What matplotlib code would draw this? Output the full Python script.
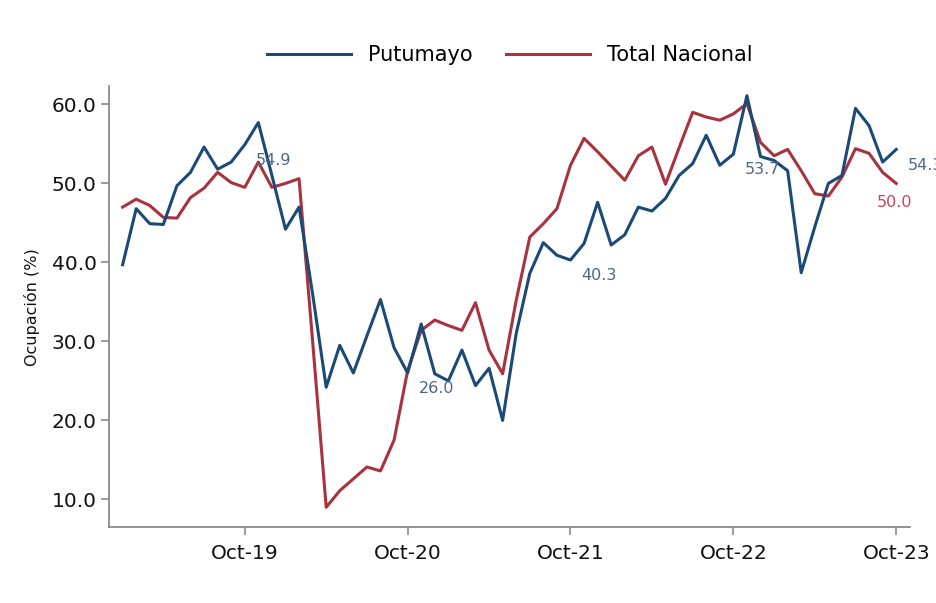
import matplotlib
matplotlib.use("Agg")
import matplotlib.pyplot as plt
import numpy as np
import pandas as pd

# monthly occupancy rate (%), Jan-2019 .. Oct-2023
months = pd.date_range("2019-01-01", "2023-10-01", freq="MS")

putumayo = [39.7, 46.8, 44.9, 44.8, 49.7, 51.4, 54.6, 51.8, 52.7, 54.9,
            57.7, 51.0, 44.2, 47.0, 36.0, 24.2, 29.5, 26.0, 30.7, 35.3,
            29.2, 26.0, 32.2, 25.9, 25.0, 28.9, 24.4, 26.6, 20.0, 31.0,
            38.6, 42.5, 40.9, 40.3, 42.4, 47.6, 42.2, 43.5, 47.0, 46.5,
            48.1, 51.0, 52.5, 56.1, 52.3, 53.7, 61.1, 53.4, 52.9, 51.6,
            38.7, 44.5, 50.0, 51.0, 59.5, 57.3, 52.7, 54.3]

nacional = [47.0, 48.0, 47.2, 45.7, 45.6, 48.2, 49.4, 51.4, 50.1, 49.5,
            52.7, 49.5, 50.0, 50.6, 30.0, 9.0, 11.1, 12.6, 14.1, 13.6,
            17.5, 26.3, 31.4, 32.7, 32.0, 31.4, 34.9, 28.9, 25.9, 35.2,
            43.2, 44.9, 46.8, 52.3, 55.7, 54.0, 52.2, 50.4, 53.5, 54.6,
            49.9, 54.5, 59.0, 58.4, 58.0, 58.8, 60.1, 55.2, 53.5, 54.3,
            51.6, 48.7, 48.4, 50.8, 54.4, 53.8, 51.4, 50.0]

# points that carry a value label
putumayo_labels = ["2019-10", "2020-10", "2021-10", "2022-10", "2023-10"]
nacional_labels = ["2023-10"]

y_ticks = [10, 20, 30, 40, 50, 60]

BLUE = "#1a4a75"
RED = "#a8323e"
BLUE_TXT = "#4f6684"
RED_TXT = "#c8455e"
GRAY = "#808080"

plt.rcParams['font.family'] = ['DejaVu Sans']

x = np.arange(len(months))
fig = plt.figure(figsize=(9.36, 6.03), dpi=100)
ax = fig.add_axes([0.1165, 0.126, 0.8555, 0.731])

ax.plot(x, putumayo, color=BLUE, lw=2.2, label="Putumayo", zorder=3)
ax.plot(x, nacional, color=RED, lw=2.2, label="Total Nacional", zorder=2)

keys = list(months.strftime("%Y-%m"))
for k in putumayo_labels:
    i = keys.index(k)
    ax.annotate(f"{putumayo[i]:.1f}", (x[i], putumayo[i]), xytext=(8, -6),
                textcoords="offset points", ha="left", va="top",
                fontsize=11.5, color=BLUE_TXT, annotation_clip=False)
for k in nacional_labels:
    i = keys.index(k)
    ax.annotate(f"{nacional[i]:.1f}", (x[i], nacional[i]), xytext=(-14, -8),
                textcoords="offset points", ha="left", va="top",
                fontsize=11.5, color=RED_TXT, annotation_clip=False)

oct_idx = [i for i, m in enumerate(months) if m.month == 10]
ax.set_xticks(x[oct_idx])
ax.set_xticklabels(months[oct_idx].strftime("Oct-%y"))
ax.set_yticks(y_ticks)
ax.set_yticklabels([f"{v:.1f}" for v in y_ticks])
ax.set_xlim(-1, 58)
ax.set_ylim(6.5, 62.3)

for s in ["top", "right"]:
    ax.spines[s].set_visible(False)
for s in ["left", "bottom"]:
    ax.spines[s].set_color(GRAY)
    ax.spines[s].set_linewidth(1.2)
ax.tick_params(axis="both", colors=GRAY, length=6, width=1.1, labelsize=14.5,
               labelcolor="#111111")
ax.tick_params(axis="x", pad=6)
ax.tick_params(axis="y", pad=3)

ax.set_ylabel("Ocupación (%)", fontsize=11.5, color="#111111", labelpad=8)

fig.legend(loc="center", bbox_to_anchor=(0.545, 0.909), ncol=2, frameon=False,
           fontsize=15, handlelength=4.0, handletextpad=0.85, columnspacing=1.6)

fig.savefig("out.png", dpi=100, facecolor="white")
